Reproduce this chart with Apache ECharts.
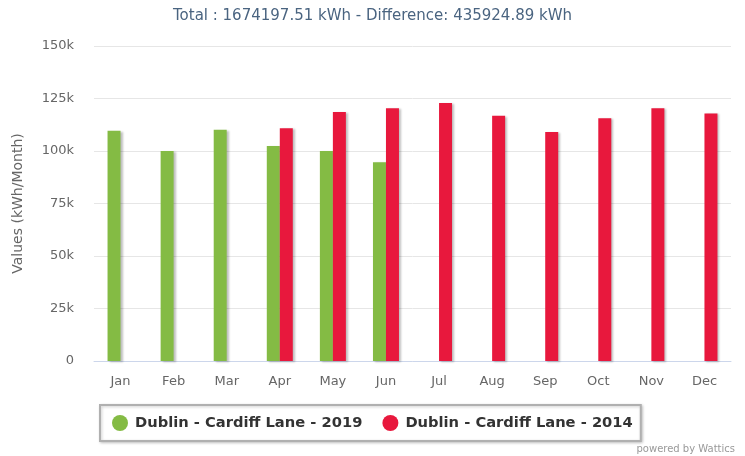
<!DOCTYPE html>
<html>
<head>
<meta charset="utf-8">
<script src="https://cdn.jsdelivr.net/npm/echarts@6/dist/echarts.min.js"></script>
<style>
html,body{margin:0;padding:0;background:#fff;}
#chart{width:745px;height:456px;}
</style>
</head>
<body>
<div id="chart"></div>
<script>
var months = ['Jan','Feb','Mar','Apr','May','Jun','Jul','Aug','Sep','Oct','Nov','Dec'];
var series2019 = [109700, 100000, 110100, 102400, 100000, 94600, null, null, null, null, null, null];
var series2014 = [null, null, null, 110800, 118600, 120300, 122900, 116800, 109000, 115600, 120300, 117900];
var name2019 = 'Dublin - Cardiff Lane - 2019';
var name2014 = 'Dublin - Cardiff Lane - 2014';
var titleText = 'Total : 1674197.51 kWh - Difference: 435924.89 kWh';
var yTicks = [0, 25000, 50000, 75000, 100000, 125000, 150000];

var chart = echarts.init(document.getElementById('chart'), null, {renderer:'canvas'});
var font = '"DejaVu Sans", sans-serif';
chart.setOption({
  animation:false,
  textStyle:{fontFamily:font},
  title:[{
    text:titleText, left:'center', top:4,
    textStyle:{color:'#4a6480', fontSize:15, fontWeight:'normal', fontFamily:font}
  },{
    text:'powered by Wattics', right:10, top:444, padding:0,
    textStyle:{color:'#999', fontSize:10, fontWeight:'normal', fontFamily:font}
  }],
  grid:{left:94, right:14, top:46, bottom:95, containLabel:false},
  xAxis:{
    type:'category', data:months,
    axisLine:{lineStyle:{color:'#ccd6eb', width:1}},
    axisTick:{alignWithLabel:true, lineStyle:{color:'#ccd6eb'}, length:8},
    axisLabel:{color:'#666', fontSize:13, margin:14, fontFamily:font}
  },
  yAxis:{
    type:'value', min:yTicks[0], max:yTicks[yTicks.length-1], interval:25000,
    name:'Values (kWh/Month)', nameLocation:'middle', nameGap:69, nameRotate:90,
    nameTextStyle:{color:'#666', fontSize:14, fontFamily:font},
    axisLabel:{color:'#666', fontSize:13, margin:20, fontFamily:font,
      formatter:function(v){return v===0?'0':(v/1000)+'k';}},
    splitLine:{lineStyle:{color:'#e6e6e6'}},
    axisLine:{show:false}, axisTick:{show:false}
  },
  legend:{
    left:100, top:405, width:540, height:36,
    padding:[10,8,10,12],
    itemGap:20,
    icon:'circle', itemWidth:16, itemHeight:16,
    borderColor:'#b0b0b0', borderWidth:2, backgroundColor:'#fff',
    shadowColor:'rgba(0,0,0,0.2)', shadowBlur:3, shadowOffsetX:1, shadowOffsetY:1,
    textStyle:{color:'#333', fontSize:14.7, fontWeight:'bold', fontFamily:font, padding:[0,0,0,2]},
    data:[name2019, name2014]
  },
  series:[{
    name:name2019, type:'bar', data:series2019, barWidth:13, barGap:'0%',
    itemStyle:{color:'#84bb44', shadowColor:'rgba(0,0,0,0.25)', shadowBlur:2, shadowOffsetX:2, shadowOffsetY:1}
  },{
    name:name2014, type:'bar', data:series2014, barWidth:13, barGap:'0%',
    itemStyle:{color:'#e8183d', shadowColor:'rgba(0,0,0,0.25)', shadowBlur:2, shadowOffsetX:2, shadowOffsetY:1}
  }]
});
</script>
</body>
</html>
